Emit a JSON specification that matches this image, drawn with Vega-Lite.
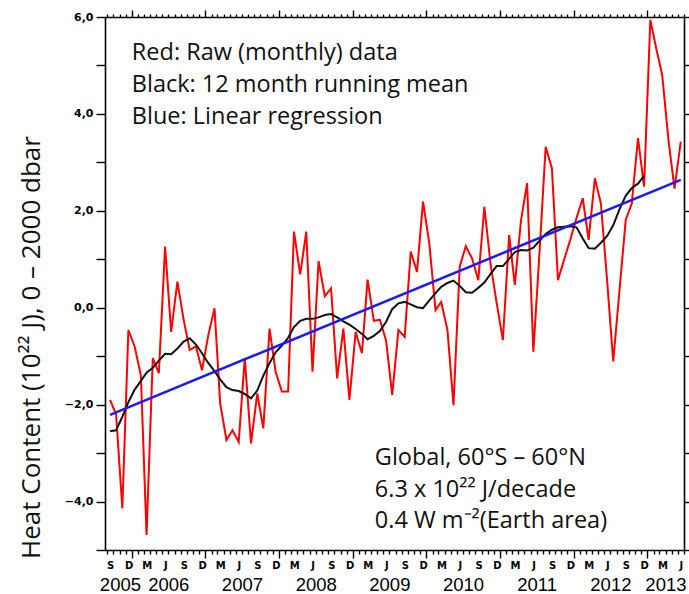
{
  "$schema": "https://vega.github.io/schema/vega-lite/v6.json",
  "width": 579,
  "height": 533,
  "autosize": {"type": "none"},
  "padding": {"left": 105, "top": 17, "right": 5, "bottom": 44},
  "background": "white",
  "config": {
    "view": {"stroke": null},
    "axis": {
      "grid": false,
      "domainColor": "black",
      "domainWidth": 1.6,
      "tickColor": "black",
      "tickWidth": 1.4,
      "labelColor": "black"
    }
  },
  "datasets": {
    "raw": [
      {"month": "2005-09-15", "heat": -1.90}, {"month": "2005-10-15", "heat": -2.20}, {"month": "2005-11-15", "heat": -4.14}, {"month": "2005-12-15", "heat": -0.46},
      {"month": "2006-01-15", "heat": -0.80}, {"month": "2006-02-15", "heat": -1.40}, {"month": "2006-03-15", "heat": -4.69}, {"month": "2006-04-15", "heat": -1.04},
      {"month": "2006-05-15", "heat": -1.35}, {"month": "2006-06-15", "heat": 1.26}, {"month": "2006-07-15", "heat": -0.50}, {"month": "2006-08-15", "heat": 0.54},
      {"month": "2006-09-15", "heat": -0.25}, {"month": "2006-10-15", "heat": -0.87}, {"month": "2006-11-15", "heat": -0.80}, {"month": "2006-12-15", "heat": -1.29},
      {"month": "2007-01-15", "heat": -0.57}, {"month": "2007-02-15", "heat": -0.01}, {"month": "2007-03-15", "heat": -1.97}, {"month": "2007-04-15", "heat": -2.73},
      {"month": "2007-05-15", "heat": -2.53}, {"month": "2007-06-15", "heat": -2.77}, {"month": "2007-07-15", "heat": -1.04}, {"month": "2007-08-15", "heat": -2.80},
      {"month": "2007-09-15", "heat": -1.77}, {"month": "2007-10-15", "heat": -2.49}, {"month": "2007-11-15", "heat": -0.43}, {"month": "2007-12-15", "heat": -1.32},
      {"month": "2008-01-15", "heat": -1.73}, {"month": "2008-02-15", "heat": -1.73}, {"month": "2008-03-15", "heat": 1.57}, {"month": "2008-04-15", "heat": 0.69},
      {"month": "2008-05-15", "heat": 1.57}, {"month": "2008-06-15", "heat": -1.32}, {"month": "2008-07-15", "heat": 0.96}, {"month": "2008-08-15", "heat": 0.24},
      {"month": "2008-09-15", "heat": 0.40}, {"month": "2008-10-15", "heat": -1.46}, {"month": "2008-11-15", "heat": -0.43}, {"month": "2008-12-15", "heat": -1.90},
      {"month": "2009-01-15", "heat": -0.50}, {"month": "2009-02-15", "heat": -0.94}, {"month": "2009-03-15", "heat": 0.58}, {"month": "2009-04-15", "heat": -0.27},
      {"month": "2009-05-15", "heat": -0.25}, {"month": "2009-06-15", "heat": -0.68}, {"month": "2009-07-15", "heat": -1.80}, {"month": "2009-08-15", "heat": -0.46},
      {"month": "2009-09-15", "heat": -0.60}, {"month": "2009-10-15", "heat": 1.16}, {"month": "2009-11-15", "heat": 0.74}, {"month": "2009-12-15", "heat": 2.19},
      {"month": "2010-01-15", "heat": 1.33}, {"month": "2010-02-15", "heat": -0.05}, {"month": "2010-03-15", "heat": 0.12}, {"month": "2010-04-15", "heat": -0.46},
      {"month": "2010-05-15", "heat": -2.01}, {"month": "2010-06-15", "heat": 0.85}, {"month": "2010-07-15", "heat": 1.27}, {"month": "2010-08-15", "heat": 1.02},
      {"month": "2010-09-15", "heat": 0.57}, {"month": "2010-10-15", "heat": 2.08}, {"month": "2010-11-15", "heat": 0.90}, {"month": "2010-12-15", "heat": 0.10},
      {"month": "2011-01-15", "heat": -0.67}, {"month": "2011-02-15", "heat": 1.50}, {"month": "2011-03-15", "heat": 0.47}, {"month": "2011-04-15", "heat": 1.81},
      {"month": "2011-05-15", "heat": 2.57}, {"month": "2011-06-15", "heat": -0.91}, {"month": "2011-07-15", "heat": 1.10}, {"month": "2011-08-15", "heat": 3.32},
      {"month": "2011-09-15", "heat": 2.88}, {"month": "2011-10-15", "heat": 0.57}, {"month": "2011-11-15", "heat": 1.00}, {"month": "2011-12-15", "heat": 1.40},
      {"month": "2012-01-15", "heat": 1.85}, {"month": "2012-02-15", "heat": 2.26}, {"month": "2012-03-15", "heat": 1.40}, {"month": "2012-04-15", "heat": 2.67},
      {"month": "2012-05-15", "heat": 2.15}, {"month": "2012-06-15", "heat": 0.55}, {"month": "2012-07-15", "heat": -1.11}, {"month": "2012-08-15", "heat": 0.35},
      {"month": "2012-09-15", "heat": 1.81}, {"month": "2012-10-15", "heat": 2.15}, {"month": "2012-11-15", "heat": 3.50}, {"month": "2012-12-15", "heat": 2.50},
      {"month": "2013-01-15", "heat": 5.94}, {"month": "2013-02-15", "heat": 5.32}, {"month": "2013-03-15", "heat": 4.80}, {"month": "2013-04-15", "heat": 3.46},
      {"month": "2013-05-15", "heat": 2.46}, {"month": "2013-06-15", "heat": 3.43}
    ],
    "mean": [
      {"month": "2005-09-15", "heat": -2.55}, {"month": "2005-10-15", "heat": -2.53}, {"month": "2005-11-15", "heat": -2.25}, {"month": "2005-12-15", "heat": -1.95},
      {"month": "2006-01-15", "heat": -1.69}, {"month": "2006-02-15", "heat": -1.51}, {"month": "2006-03-15", "heat": -1.34}, {"month": "2006-04-15", "heat": -1.24},
      {"month": "2006-05-15", "heat": -1.09}, {"month": "2006-06-15", "heat": -0.95}, {"month": "2006-07-15", "heat": -0.96}, {"month": "2006-08-15", "heat": -0.84},
      {"month": "2006-09-15", "heat": -0.70}, {"month": "2006-10-15", "heat": -0.63}, {"month": "2006-11-15", "heat": -0.76}, {"month": "2006-12-15", "heat": -0.94},
      {"month": "2007-01-15", "heat": -1.14}, {"month": "2007-02-15", "heat": -1.31}, {"month": "2007-03-15", "heat": -1.48}, {"month": "2007-04-15", "heat": -1.64},
      {"month": "2007-05-15", "heat": -1.70}, {"month": "2007-06-15", "heat": -1.72}, {"month": "2007-07-15", "heat": -1.78}, {"month": "2007-08-15", "heat": -1.87},
      {"month": "2007-09-15", "heat": -1.71}, {"month": "2007-10-15", "heat": -1.40}, {"month": "2007-11-15", "heat": -1.14}, {"month": "2007-12-15", "heat": -0.92},
      {"month": "2008-01-15", "heat": -0.78}, {"month": "2008-02-15", "heat": -0.62}, {"month": "2008-03-15", "heat": -0.40}, {"month": "2008-04-15", "heat": -0.27},
      {"month": "2008-05-15", "heat": -0.23}, {"month": "2008-06-15", "heat": -0.23}, {"month": "2008-07-15", "heat": -0.20}, {"month": "2008-08-15", "heat": -0.15},
      {"month": "2008-09-15", "heat": -0.13}, {"month": "2008-10-15", "heat": -0.20}, {"month": "2008-11-15", "heat": -0.28}, {"month": "2008-12-15", "heat": -0.35},
      {"month": "2009-01-15", "heat": -0.44}, {"month": "2009-02-15", "heat": -0.54}, {"month": "2009-03-15", "heat": -0.65}, {"month": "2009-04-15", "heat": -0.58},
      {"month": "2009-05-15", "heat": -0.48}, {"month": "2009-06-15", "heat": -0.29}, {"month": "2009-07-15", "heat": -0.03}, {"month": "2009-08-15", "heat": 0.09},
      {"month": "2009-09-15", "heat": 0.12}, {"month": "2009-10-15", "heat": 0.07}, {"month": "2009-11-15", "heat": 0.01}, {"month": "2009-12-15", "heat": -0.01},
      {"month": "2010-01-15", "heat": 0.15}, {"month": "2010-02-15", "heat": 0.30}, {"month": "2010-03-15", "heat": 0.43}, {"month": "2010-04-15", "heat": 0.51},
      {"month": "2010-05-15", "heat": 0.56}, {"month": "2010-06-15", "heat": 0.45}, {"month": "2010-07-15", "heat": 0.32}, {"month": "2010-08-15", "heat": 0.31},
      {"month": "2010-09-15", "heat": 0.41}, {"month": "2010-10-15", "heat": 0.52}, {"month": "2010-11-15", "heat": 0.70}, {"month": "2010-12-15", "heat": 0.86},
      {"month": "2011-01-15", "heat": 0.86}, {"month": "2011-02-15", "heat": 1.01}, {"month": "2011-03-15", "heat": 1.15}, {"month": "2011-04-15", "heat": 1.19},
      {"month": "2011-05-15", "heat": 1.18}, {"month": "2011-06-15", "heat": 1.24}, {"month": "2011-07-15", "heat": 1.38}, {"month": "2011-08-15", "heat": 1.52},
      {"month": "2011-09-15", "heat": 1.61}, {"month": "2011-10-15", "heat": 1.66}, {"month": "2011-11-15", "heat": 1.67}, {"month": "2011-12-15", "heat": 1.68},
      {"month": "2012-01-15", "heat": 1.66}, {"month": "2012-02-15", "heat": 1.43}, {"month": "2012-03-15", "heat": 1.23}, {"month": "2012-04-15", "heat": 1.22},
      {"month": "2012-05-15", "heat": 1.34}, {"month": "2012-06-15", "heat": 1.48}, {"month": "2012-07-15", "heat": 1.70}, {"month": "2012-08-15", "heat": 2.03},
      {"month": "2012-09-15", "heat": 2.31}, {"month": "2012-10-15", "heat": 2.47}, {"month": "2012-11-15", "heat": 2.56}, {"month": "2012-12-15", "heat": 2.72}
    ],
    "fit": [
      {"month": "2005-09-15", "heat": -2.21},
      {"month": "2013-06-15", "heat": 2.64}
    ]
  },
  "layer": [
    {
      "data": {"name": "raw"},
      "mark": {"type": "line", "color": "#ff0000", "strokeWidth": 2},
      "encoding": {
        "x": {
          "field": "month",
          "type": "temporal",
          "scale": {
            "type": "utc",
            "nice": false,
            "domain": [
              {"year": 2005, "month": 8, "date": 21, "utc": true},
              {"year": 2013, "month": 7, "date": 1, "utc": true}
            ]
          },
          "axis": {
            "orient": "bottom",
            "title": null,
            "tickCount": {"interval": "month", "step": 1},
            "tickSize": {"condition": {"test": "utcmonth(datum.value) == 0", "value": 8}, "value": 4},
            "labelExpr": "utcmonth(datum.value) == 8 ? 'S' : utcmonth(datum.value) == 11 ? 'D' : utcmonth(datum.value) == 2 ? 'M' : utcmonth(datum.value) == 5 ? 'J' : ''",
            "labelOffset": 3,
            "labelPadding": 6,
            "labelAngle": 0,
            "labelFont": "DejaVu Sans",
            "labelFontWeight": "bold",
            "labelFontSize": 10,
            "labelOverlap": false,
            "labelFlush": false,
            "labelBaseline": "top"
          }
        },
        "y": {
          "field": "heat",
          "type": "quantitative",
          "scale": {"domain": [-5, 6], "nice": false, "zero": false},
          "axis": {
            "orient": "left",
            "values": [-5, -4, -3, -2, -1, 0, 1, 2, 3, 4, 5, 6],
            "tickSize": 9,
            "labelExpr": "datum.value % 2 == 0 ? replace(format(datum.value, '.1f'), '.', ',') : ''",
            "labelPadding": 3,
            "labelFont": "DejaVu Sans",
            "labelFontWeight": "bold",
            "labelFontSize": 11,
            "labelOverlap": false,
            "labelFlush": false,
            "title": "Heat Content (10²² J), 0 – 2000 dbar",
            "titleFont": "Open Sans",
            "titleFontSize": 26,
            "titleFontWeight": "normal",
            "titleColor": "#111111",
            "titlePadding": 20,
            "titleY": 330
          }
        }
      }
    },
    {
      "data": {"name": "mean"},
      "mark": {"type": "line", "color": "#111111", "strokeWidth": 2},
      "encoding": {
        "x": {
          "field": "month",
          "type": "temporal",
          "axis": {
            "orient": "top",
            "title": null,
            "labels": false,
            "tickCount": {"interval": "month", "step": 1},
            "tickSize": {"condition": {"test": "utcmonth(datum.value) == 0", "value": 7}, "value": 3}
          }
        },
        "y": {
          "field": "heat",
          "type": "quantitative",
          "axis": {
            "orient": "right",
            "title": null,
            "labels": false,
            "values": [-5, -4, -3, -2, -1, 0, 1, 2, 3, 4, 5, 6],
            "tickSize": 9
          }
        }
      }
    },
    {
      "data": {"name": "fit"},
      "mark": {"type": "line", "color": "#1a1aff", "strokeWidth": 2.5},
      "encoding": {
        "x": {
          "field": "month",
          "type": "temporal",
          "axis": {
            "orient": "bottom",
            "title": null,
            "domain": false,
            "ticks": false,
            "values": [
              {"year": 2005, "month": 11, "date": 3, "utc": true},
              {"year": 2006, "month": 7, "date": 1, "utc": true},
              {"year": 2007, "month": 7, "date": 1, "utc": true},
              {"year": 2008, "month": 7, "date": 1, "utc": true},
              {"year": 2009, "month": 7, "date": 1, "utc": true},
              {"year": 2010, "month": 7, "date": 1, "utc": true},
              {"year": 2011, "month": 7, "date": 1, "utc": true},
              {"year": 2012, "month": 7, "date": 1, "utc": true},
              {"year": 2013, "month": 3, "date": 31, "utc": true}
            ],
            "labelExpr": "'' + utcyear(datum.value)",
            "labelPadding": 40,
            "labelAngle": 0,
            "labelBaseline": "alphabetic",
            "labelFont": "Liberation Sans",
            "labelFontSize": 18.5,
            "labelFontWeight": "normal",
            "labelOverlap": false,
            "labelFlush": false
          }
        },
        "y": {"field": "heat", "type": "quantitative", "axis": null}
      }
    },
    {
      "data": {"values": [{}]},
      "mark": {"type": "text", "align": "left", "baseline": "alphabetic", "font": "Open Sans", "fontSize": 23.5, "lineHeight": 32, "color": "#111111"},
      "encoding": {
        "x": {"datum": {"year": 2006, "month": 1, "date": 1, "utc": true}, "type": "temporal", "axis": null},
        "y": {"datum": 5.11, "type": "quantitative", "axis": null},
        "text": {"value": ["Red: Raw (monthly) data", "Black: 12 month running mean", "Blue: Linear regression"]}
      }
    },
    {
      "data": {"values": [{}]},
      "mark": {"type": "text", "align": "left", "baseline": "alphabetic", "font": "Open Sans", "fontSize": 23.5, "lineHeight": 31.5, "color": "#111111"},
      "encoding": {
        "x": {"datum": {"year": 2009, "month": 4, "date": 20, "utc": true}, "type": "temporal", "axis": null},
        "y": {"datum": -3.25, "type": "quantitative", "axis": null},
        "text": {"value": ["Global, 60°S – 60°N", "6.3 x 10²² J/decade", "0.4 W m⁻²(Earth area)"]}
      }
    }
  ],
  "resolve": {"axis": {"x": "independent", "y": "independent"}}
}
